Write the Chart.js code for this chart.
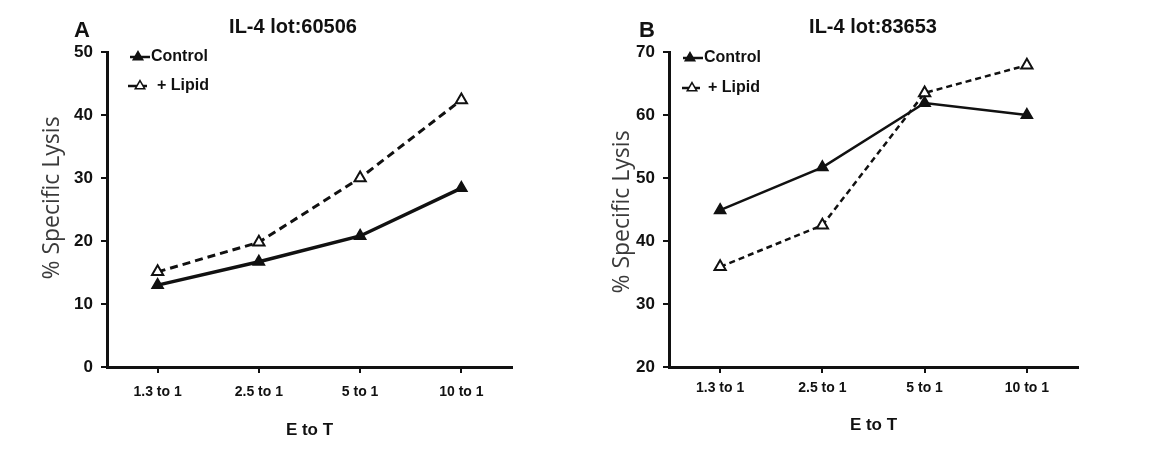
<!DOCTYPE html>
<html>
<head>
<meta charset="utf-8">
<script src="https://cdn.jsdelivr.net/npm/chart.js@4.4.1/dist/chart.umd.min.js"></script>
<style>
body { margin: 0; background: #fff; }
#wrap { position: relative; width: 1159px; height: 459px; background: #fff; }
canvas { position: absolute; top: 0; }
</style>
</head>
<body>
<div id="wrap">
<canvas id="panelA" width="580" height="459" style="left:0"></canvas>
<canvas id="panelB" width="579" height="459" style="left:580px"></canvas>
</div>
<script>
const ratios = ["1.3 to 1", "2.5 to 1", "5 to 1", "10 to 1"];
const controlA = [13.0, 16.7, 20.8, 28.4];
const lipidA = [15.1, 19.8, 30.0, 42.4];
const controlB = [44.9, 51.7, 61.9, 60.0];
const lipidB = [35.9, 42.5, 63.5, 67.9];
const seriesNames = ["Control", "+ Lipid"];

const sans = "'Liberation Sans', Arial, sans-serif";

// draws panel letter, title, axis titles and the in-plot legend
const panelText = {
    id: "panelText",
    afterDraw(chart, args, opts) {
        const ctx = chart.ctx, a = chart.chartArea;
        ctx.save();
        ctx.fillStyle = "#111";
        ctx.textBaseline = "middle";
        ctx.textAlign = "center";
        ctx.font = "bold 22px " + sans;
        ctx.fillText(opts.letter, opts.letterX, 31);
        ctx.font = "bold 20px " + sans;
        ctx.fillText(opts.title, 293, 27);
        ctx.font = "bold 17px " + sans;
        ctx.fillText("E to T", (a.left + a.right) / 2, opts.xTitleY);

        ctx.save();
        ctx.translate(opts.yTitleX, opts.yTitleY);
        ctx.rotate(-Math.PI / 2);
        ctx.fillStyle = "#3a3a3a";
        ctx.font = "23px 'Open Sans', sans-serif";
        ctx.fillText("% Specific Lysis", 0, 0);
        ctx.restore();

        opts.legend.forEach((item, i) => {
            ctx.strokeStyle = "#111";
            ctx.lineWidth = 2.5;
            ctx.beginPath();
            ctx.moveTo(item.x0, item.y);
            ctx.lineTo(item.x1, item.y);
            ctx.stroke();
            ctx.fillStyle = i === 0 ? "#111" : "#fff";
            ctx.lineWidth = 1.5;
            Chart.helpers.drawPoint(ctx, {pointStyle: "triangle", radius: 5.5, rotation: 0, borderWidth: 1.5}, item.mx, item.y);
            ctx.fillStyle = "#111";
            ctx.textAlign = "left";
            ctx.font = "bold 16px " + sans;
            ctx.fillText(seriesNames[i], item.tx, item.y);
        });
        ctx.restore();
    }
};

function makePanel(id, control, lipid, yMin, yMax, left, right, widths, text) {
    new Chart(id, {
        type: "line",
        data: {
            labels: ratios,
            datasets: [{
                label: seriesNames[0],
                data: control,
                borderColor: "#111",
                borderWidth: widths[0],
                pointStyle: "triangle",
                pointRadius: 6.5,
                pointBackgroundColor: "#111",
                pointBorderColor: "#111",
                pointBorderWidth: 1.5,
                tension: 0
            }, {
                label: seriesNames[1],
                data: lipid,
                borderColor: "#111",
                borderWidth: widths[1],
                borderDash: widths[2],
                pointStyle: "triangle",
                pointRadius: 6.5,
                pointBackgroundColor: "#fff",
                pointBorderColor: "#111",
                pointBorderWidth: 2,
                tension: 0
            }]
        },
        options: {
            responsive: false,
            animation: false,
            devicePixelRatio: 1,
            layout: {
                padding: {top: 52, right: right, left: 0, bottom: 0}
            },
            plugins: {
                legend: {display: false},
                tooltip: {enabled: false},
                panelText: text
            },
            scales: {
                x: {
                    offset: true,
                    grid: {
                        offset: false,
                        drawOnChartArea: false,
                        tickLength: 6,
                        color: "#111",
                        lineWidth: 2
                    },
                    border: {color: "#111", width: 3},
                    ticks: {
                        color: "#111",
                        padding: text.tickPad,
                        font: {family: sans, size: 14, weight: "bold"}
                    },
                    afterFit: (scale) => { scale.height = 92; }
                },
                y: {
                    min: yMin,
                    max: yMax,
                    grid: {
                        drawOnChartArea: false,
                        tickLength: 6,
                        color: "#111",
                        lineWidth: 2
                    },
                    border: {color: "#111", width: 3},
                    ticks: {
                        stepSize: 10,
                        color: "#111",
                        padding: 8,
                        font: {family: sans, size: 17, weight: "bold"}
                    },
                    afterFit: (scale) => { scale.width = left; }
                }
            }
        },
        plugins: [panelText]
    });
}

makePanel("panelA", controlA, lipidA, 0, 50, 107, 68, [3.5, 3, [8, 5]], {
    letter: "A", letterX: 82, title: "IL-4 lot:60506", tickPad: 11,
    xTitleY: 430, yTitleX: 52, yTitleY: 198,
    legend: [
        {x0: 130, x1: 150, mx: 138, tx: 151, y: 57},
        {x0: 128, x1: 147, mx: 140, tx: 157, y: 86}
    ]
});
makePanel("panelB", controlB, lipidB, 20, 70, 89, 81, [2.5, 2.5, [6, 4]], {
    letter: "B", letterX: 67, title: "IL-4 lot:83653", tickPad: 7,
    xTitleY: 425, yTitleX: 42, yTitleY: 212,
    legend: [
        {x0: 103, x1: 123, mx: 110, tx: 124, y: 58},
        {x0: 102, x1: 120, mx: 112, tx: 128, y: 88}
    ]
});
</script>
</body>
</html>
